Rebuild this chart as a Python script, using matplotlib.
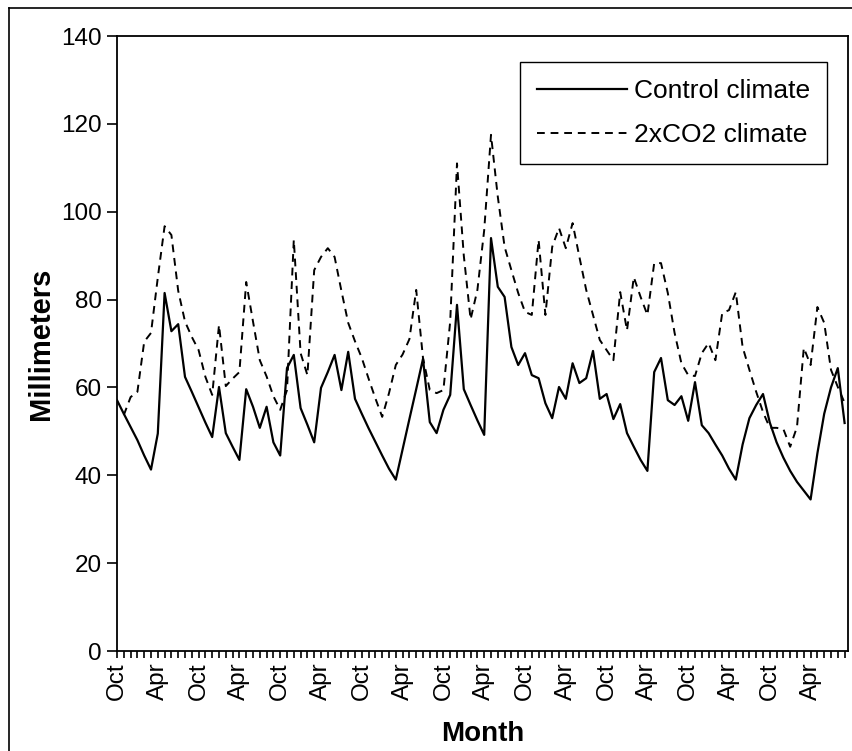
import numpy as np
import matplotlib.pyplot as plt
from matplotlib.lines import Line2D

plt.rcParams['font.family'] = ['Liberation Sans', 'DejaVu Sans']

# monthly precipitation, Oct year 1 .. Sep year 10 (108 months)
control = [57.1, 54, 51, 48, 44.5, 41.3, 49.5, 81.5, 72.8, 74.4,
           62.4, 59, 55.5, 52, 48.7, 60.1, 49.6, 46.5, 43.5, 59.6,
           55.6, 50.8, 55.6, 47.5, 44.5, 64.4, 67.4, 55.3, 51.5, 47.5,
           59.9, 63.5, 67.4, 59.4, 68.1, 57.4, 54, 50.7, 47.6, 44.5,
           41.5, 39, 45.9, 52.8, 59.6, 66.5, 52.1, 49.6, 54.9, 58.3,
           78.8, 59.6, 56, 52.5, 49.2, 94, 82.9, 80.6, 69.2, 65.1,
           67.8, 62.8, 62.1, 56.4, 53, 60.1, 57.4, 65.5, 61, 62.1,
           68.3, 57.4, 58.5, 52.8, 56.2, 49.6, 46.5, 43.5, 41, 63.5,
           66.7, 57.1, 56, 58, 52.4, 61.2, 51.4, 49.6, 47, 44.5,
           41.5, 39, 47, 53, 56, 58.5, 52, 47.5, 44, 41,
           38.5, 36.5, 34.5, 45, 54, 60, 64.4, 51.9]

co2x2 = [np.nan, 53.7, 57.8, 59, 70.4, 72.4, 85, 96.7, 94.7, 82,
         75, 71.5, 68.5, 62.4, 58.3, 74.2, 60.3, 62, 63.5, 84,
         75, 66.2, 62.5, 58, 54.9, 59.4, 93.6, 67.8, 62.8, 86.7,
         89.7, 91.7, 89.7, 82, 74.7, 70.5, 66.7, 62, 57.5, 53.3,
         58.7, 65.1, 67.5, 71, 82.2, 66.7, 59.4, 58.7, 59.4, 75,
         111, 90, 75.5, 82.2, 95.8, 117.5, 103.4, 92, 86.7, 81.5,
         77.2, 76.5, 93.6, 76.5, 92, 96.3, 91.7, 97.4, 89.7, 82.2,
         76.5, 70.8, 68.5, 66.2, 81.7, 73, 85.1, 80.6, 76.5, 88.3,
         88.3, 81.5, 72.4, 65.5, 62.8, 62.6, 67.8, 70.1, 66.2, 76.9,
         77.6, 81.7, 69.2, 64, 59, 54.4, 50.8, 50.8, 50.5, 46.5,
         51, 69, 65.1, 78.3, 74.7, 64, 60.1, 56.5]

month_labels = ['Oct', 'Apr'] * 9
y_ticks = [0, 20, 40, 60, 80, 100, 120, 140]

months = np.arange(len(control))

fig = plt.figure(figsize=(8.53, 7.51), dpi=100)
ax = fig.add_axes([117 / 853, 100 / 751, 731 / 853, 615 / 751])

ax.plot(months, control, color='black', lw=1.6, label='Control climate')
ax.plot(months, co2x2, color='black', lw=1.4, linestyle=(0, (4, 3)),
        label='2xCO2 climate')

ax.set_xlim(0, 107.5)
ax.set_ylim(0, 140)
ax.set_yticks(y_ticks)
ax.set_xticks(np.arange(0, len(month_labels) * 6, 6))
ax.set_xticklabels(month_labels, rotation=90)
ax.set_xticks(months, minor=True)
ax.tick_params(axis='both', direction='out', colors='black', labelsize=17.5)
ax.tick_params(axis='x', which='both', length=5, width=1.2, pad=3)
ax.tick_params(axis='y', length=7, width=1.2, pad=4)
for s in ax.spines.values():
    s.set_linewidth(1.3)

ax.set_ylabel('Millimeters', fontsize=21, fontweight='bold', labelpad=4)
ax.set_xlabel('Month', fontsize=20, fontweight='bold', labelpad=15)

leg = ax.legend(loc='upper right', bbox_to_anchor=(0.9713, 0.9577), fontsize=19,
                fancybox=False, framealpha=1, edgecolor='black',
                handlelength=3.4, borderpad=0.65, labelspacing=0.75,
                handletextpad=0.25, borderaxespad=0)
leg.get_frame().set_linewidth(1.0)

# outer chart border (cut off at right and bottom)
fig.add_artist(Line2D([9 / 853, 1], [1 - 8 / 751] * 2, color='black', lw=1.2,
                      transform=fig.transFigure))
fig.add_artist(Line2D([9 / 853] * 2, [0, 1 - 8 / 751], color='black', lw=1.2,
                      transform=fig.transFigure))

fig.savefig('out.png', dpi=100)
